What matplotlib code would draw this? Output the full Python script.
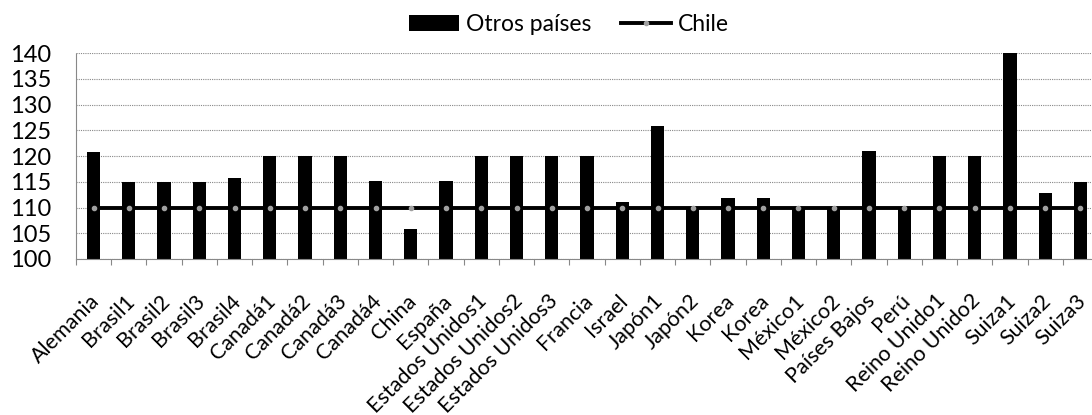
import matplotlib
matplotlib.use('Agg')
import matplotlib.pyplot as plt
import numpy as np

plt.rcParams['font.family'] = ['Lato', 'DejaVu Sans']

categories = [
    'Alemania', 'Brasil1', 'Brasil2', 'Brasil3', 'Brasil4',
    'Canadá1', 'Canadá2', 'Canadá3', 'Canadá4', 'China', 'España',
    'Estados Unidos1', 'Estados Unidos2', 'Estados Unidos3', 'Francia',
    'Israel', 'Japón1', 'Japón2', 'Korea', 'Korea', 'México1', 'México2',
    'Países Bajos', 'Perú', 'Reino Unido1', 'Reino Unido2',
    'Suiza1', 'Suiza2', 'Suiza3',
]
otros = [
    120.8, 115.0, 115.0, 115.0, 115.8,
    120.0, 120.1, 120.0, 115.2, 105.9, 115.2,
    120.0, 120.0, 120.1, 120.1,
    111.0, 125.9, 110.0, 111.8, 111.8, 110.0, 110.0,
    120.9, 110.0, 120.0, 120.0,
    141.0, 112.8, 115.0,
]
chile = [110.0] * len(categories)
y_ticks = [100, 105, 110, 115, 120, 125, 130, 135, 140]

fig = plt.figure(figsize=(10.92, 4.15), dpi=100)
ax = fig.add_axes([0.0695, 0.376, 0.9361, 0.496])

x = np.arange(len(categories))
bars = ax.bar(x, otros, width=0.37, color='black', label='Otros países', zorder=2)
line, = ax.plot(x, chile, color='black', lw=2.8, marker='o', markersize=3,
                markerfacecolor='#a0a0a0', markeredgecolor='#a0a0a0',
                label='Chile', zorder=3)

ax.set_xlim(-0.5, len(categories) - 0.5)
ax.set_ylim(100, 140)
ax.set_yticks(y_ticks)
ax.tick_params(axis='y', length=0, pad=18, labelsize=17)
ax.yaxis.grid(True, color='#888888', ls=(0, (1, 1)), lw=0.8, zorder=0)

# category labels, rotated like the Excel original
ax.set_xticks(x)
ax.tick_params(axis='x', which='major', length=0, labelbottom=False)
for xi, name in zip(x, categories):
    ax.annotate(name, xy=(xi, 0), xycoords=ax.get_xaxis_transform(),
                xytext=(2, -28), textcoords='offset points',
                ha='right', va='center', rotation=45, rotation_mode='anchor',
                fontsize=15.5)
ax.set_xticks(np.arange(-0.5, len(categories), 1), minor=True)
ax.tick_params(axis='x', which='minor', length=4, color='#888888', width=0.8)

for side in ['top', 'right']:
    ax.spines[side].set_visible(False)
for side in ['left', 'bottom']:
    ax.spines[side].set_color('#888888')
    ax.spines[side].set_linestyle((0, (1, 1)))
    ax.spines[side].set_linewidth(0.8)

fig.legend([bars, line], ['Otros países', 'Chile'], loc='center',
           bbox_to_anchor=(0.521, 0.94), ncol=2, frameon=False,
           fontsize=16.5, handlelength=2.2, handletextpad=0.3, columnspacing=1.3)

fig.savefig('out.png', dpi=100)
